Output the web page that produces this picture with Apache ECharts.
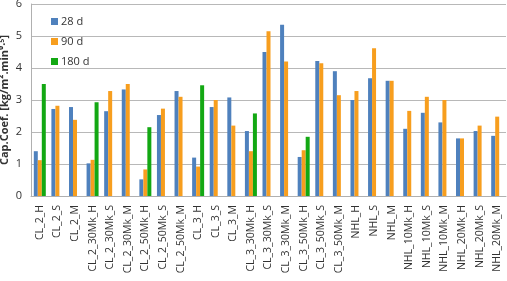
<!DOCTYPE html>
<html>
<head>
<meta charset="UTF-8">
<title></title>
<script src="https://cdn.jsdelivr.net/npm/echarts@6/dist/echarts.min.js"></script>
<style>
  html, body { margin: 0; padding: 0; background: #fff; }
  #chart { width: 507px; height: 281px; }
</style>
</head>
<body>
<div id="chart"></div>
<script>
var categories = ['CL_2_H', 'CL_2_S', 'CL_2_M', 'CL_2_30Mk_H', 'CL_2_30Mk_S', 'CL_2_30Mk_M',
  'CL_2_50Mk_H', 'CL_2_50Mk_S', 'CL_2_50Mk_M', 'CL_3_H', 'CL_3_S', 'CL_3_M',
  'CL_3_30Mk_H', 'CL_3_30Mk_S', 'CL_3_30Mk_M', 'CL_3_50Mk_H', 'CL_3_50Mk_S', 'CL_3_50Mk_M',
  'NHL_H', 'NHL_S', 'NHL_M', 'NHL_10Mk_H', 'NHL_10Mk_S', 'NHL_10Mk_M',
  'NHL_20Mk_H', 'NHL_20Mk_S', 'NHL_20Mk_M'];

var d28 = [1.40, 2.72, 2.78, 1.02, 2.65, 3.33, 0.52, 2.53, 3.28, 1.20, 2.78, 3.08,
  2.03, 4.50, 5.35, 1.22, 4.22, 3.90, 3.00, 3.68, 3.60, 2.10, 2.60, 2.30, 1.80, 2.03, 1.88];
var d90 = [1.12, 2.82, 2.38, 1.13, 3.28, 3.50, 0.83, 2.73, 3.10, 0.92, 3.00, 2.20,
  1.40, 5.15, 4.20, 1.43, 4.15, 3.15, 3.28, 4.62, 3.60, 2.66, 3.10, 3.00, 1.80, 2.20, 2.48];
var d180 = [3.50, null, null, 2.93, null, null, 2.15, null, null, 3.46, null, null,
  2.58, null, null, 1.85, null, null, null, null, null, null, null, null, null, null, null];

var yTicks = [0, 1, 2, 3, 4, 5, 6];

var chart = echarts.init(document.getElementById('chart'));
chart.setOption({
  animation: false,
  grid: { left: 31, right: 1, top: 4, bottom: 85, containLabel: false, outerBoundsMode: 'none' },
  legend: {
    orient: 'vertical',
    left: 46, top: 11,
    itemWidth: 7, itemHeight: 7, itemGap: 9,
    icon: 'rect',
    textStyle: { fontFamily: 'Open Sans', fontSize: 11, color: '#333', padding: [0, 0, 0, -2] },
    data: ['28 d', '90 d', '180 d']
  },
  xAxis: {
    type: 'category',
    data: categories,
    axisLine: { lineStyle: { color: '#b0b0b0' } },
    axisTick: { show: false },
    axisLabel: {
      rotate: 90, interval: 0, margin: 9,
      fontFamily: 'Open Sans', fontSize: 10.5, color: '#333'
    }
  },
  yAxis: {
    type: 'value',
    min: yTicks[0], max: yTicks[yTicks.length - 1], interval: 1,
    name: 'Cap.Coef. [kg/m\u00b2.min\u2070\u00b7\u2075]',
    nameLocation: 'middle', nameGap: 21, nameRotate: 90, nameMoveOverlap: false,
    nameTextStyle: { fontFamily: 'Open Sans', fontSize: 11, fontWeight: 'bold', color: '#333' },
    axisLine: { show: true, lineStyle: { color: '#b0b0b0' } },
    axisTick: { show: false },
    splitLine: { lineStyle: { color: '#b8b8b8' } },
    axisLabel: { fontFamily: 'Open Sans', fontSize: 11, color: '#333', margin: 9, hideOverlap: false }
  },
  series: [
    { name: '28 d', type: 'bar', data: d28, barWidth: 4, barGap: '0%', itemStyle: { color: '#4F81BD' } },
    { name: '90 d', type: 'bar', data: d90, barWidth: 4, barGap: '0%', itemStyle: { color: '#F79E1E' } },
    { name: '180 d', type: 'bar', data: d180, barWidth: 4, barGap: '0%', itemStyle: { color: '#13A813' } }
  ]
});
</script>
</body>
</html>
